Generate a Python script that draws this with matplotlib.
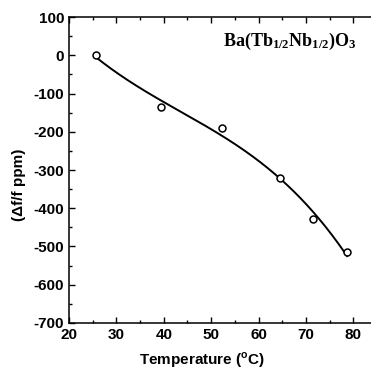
import matplotlib.pyplot as plt
import numpy as np
from matplotlib.ticker import MultipleLocator

# Temperature coefficient data
temperature = [25.6, 39.5, 52.4, 64.6, 71.4, 78.7]
df_ppm = [0, -135, -191, -320, -429, -515]

plt.rcParams['font.family'] = 'Liberation Sans'
plt.rcParams['font.weight'] = 'bold'
plt.rcParams['axes.unicode_minus'] = False
plt.rcParams['mathtext.fontset'] = 'custom'
plt.rcParams['mathtext.bf'] = 'Liberation Serif:bold'
plt.rcParams['mathtext.rm'] = 'Liberation Serif:bold'
plt.rcParams['mathtext.sf'] = 'Liberation Sans:bold'

fig = plt.figure(figsize=(3.71, 3.72), dpi=100)
ax = fig.add_axes([0.186, 0.132, 0.83, 0.822])

# smooth fitted curve through the points
coef = np.polyfit(temperature, df_ppm, 3)
xs = np.linspace(min(temperature), max(temperature), 200)
ax.plot(xs, np.polyval(coef, xs), color='black', lw=1.4)
ax.plot(temperature, df_ppm, 'o', mfc='white', mec='black', ms=5, mew=1.1)

ax.set_xlim(20, 85)
ax.set_ylim(-700, 100)
ax.xaxis.set_major_locator(MultipleLocator(10))
ax.xaxis.set_minor_locator(MultipleLocator(5))
ax.yaxis.set_major_locator(MultipleLocator(100))
ax.yaxis.set_minor_locator(MultipleLocator(50))
ax.tick_params(which='both', direction='in', top=True, right=False, width=1.0)
ax.tick_params(which='major', length=4, labelsize=11)
ax.tick_params(which='minor', length=2.5)
ax.spines['right'].set_visible(False)
for s in ['left', 'bottom', 'top']:
    ax.spines[s].set_linewidth(1.1)

ax.set_xlabel('Temperature ($^\\mathsf{o}$C)', fontsize=11, fontweight='bold')
ax.xaxis.set_label_coords(0.432, -0.09)
ax.set_ylabel('(\u0394f/f ppm)', fontsize=11, fontweight='bold')
ax.yaxis.set_label_coords(-0.14, 0.45)

ax.text(52.5, 36, r'$\mathbf{Ba(Tb_{1/2}Nb_{1/2})O_3}$', fontsize=13, va='center', ha='left')

fig.savefig('out.png', dpi=100)
